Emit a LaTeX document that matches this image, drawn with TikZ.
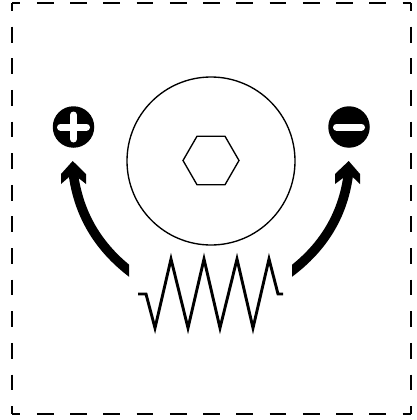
\documentclass[tikz,border=0pt]{standalone}
\usepackage{tikz}
\usetikzlibrary{shapes.geometric}

\begin{document}
\begin{tikzpicture}[
					x=1pt,y=-1pt,
					termnode/.style={circle,fill=black,inner sep=0pt,minimum size=41.5pt},
					hexnode/.style={regular polygon,regular polygon sides=6,draw,line width=1.35pt,inner sep=0pt,minimum size=56pt},
					wheelnode/.style={circle,draw,line width=1.35pt,inner sep=0pt,minimum size=168pt},
					hframe/.style={line width=1.6pt,dash pattern=on 16.6pt off 16.65pt,dash phase=8.3pt},
					vframe/.style={line width=1.6pt,dash pattern=on 15.8pt off 15.82pt,dash phase=7.9pt},
					signbar/.style={white,line width=7pt,line cap=round},
					fedge/.style={line width=9.5pt},
					coil/.style={line width=2.9pt,miter limit=10}
					]
					\useasboundingbox (0,0) rectangle (416,420);
					\coordinate (nw) at (12,3);
					\coordinate (ne) at (411,3);
					\coordinate (se) at (411,414);
					\coordinate (sw) at (12,414);
					\draw[hframe] (nw) -- (ne);
					\draw[hframe] (sw) -- (se);
					\draw[vframe] (nw) -- (sw);
					\draw[vframe] (ne) -- (se);
					\node[wheelnode] (wheel) at (211,161) {};
					\node[hexnode] (hex) at (211,160.5) {};
					\node[termnode] (plus) at (73.5,127) {};
					\node[termnode] (minus) at (349,127) {};
					\draw[signbar] ([xshift=-13pt]plus.center) -- ([xshift=13pt]plus.center);
					\draw[signbar] ([yshift=-12pt]plus.center) -- ([yshift=12pt]plus.center);
					\draw[signbar] ([xshift=-12.5pt]minus.center) -- ([xshift=12.5pt]minus.center);
					% arrows, ends cut off straight
					\coordinate (la) at (136,276);
					\coordinate (lb) at (72.8,170);
					\coordinate (ra) at (285,276);
					\coordinate (rb) at (348.9,170);
					\begin{scope}
						\clip (0,100) rectangle (129,300);
						\draw[fedge] (la) .. controls (93,245) and (77,207) .. (lb);
					\end{scope}
					\begin{scope}
						\clip (292,100) rectangle (416,300);
						\draw[fedge] (ra) .. controls (329,245) and (345,207) .. (rb);
					\end{scope}
					\foreach \xx/\wa/\wb in {72.7/13.3/-11.7,348.7/11.3/-13.7}{
						\fill (\xx,161) -- +(\wa,13) -- +(\wa,23) -- +(0.3,12.5) -- +(\wb,23) -- +(\wb,13) -- cycle;
					}
					% resistor
					\coordinate (ca) at (138,294);
					\coordinate (cb) at (283,294);
					\draw[coil] (ca) -- (146,294) -- (155,328) -- (171,259) -- (188,328) -- (204,259) -- (220,328) -- (237,259) -- (253,328) -- (269,259) -- (278,294) -- (cb);
				\end{tikzpicture}
\end{document}
